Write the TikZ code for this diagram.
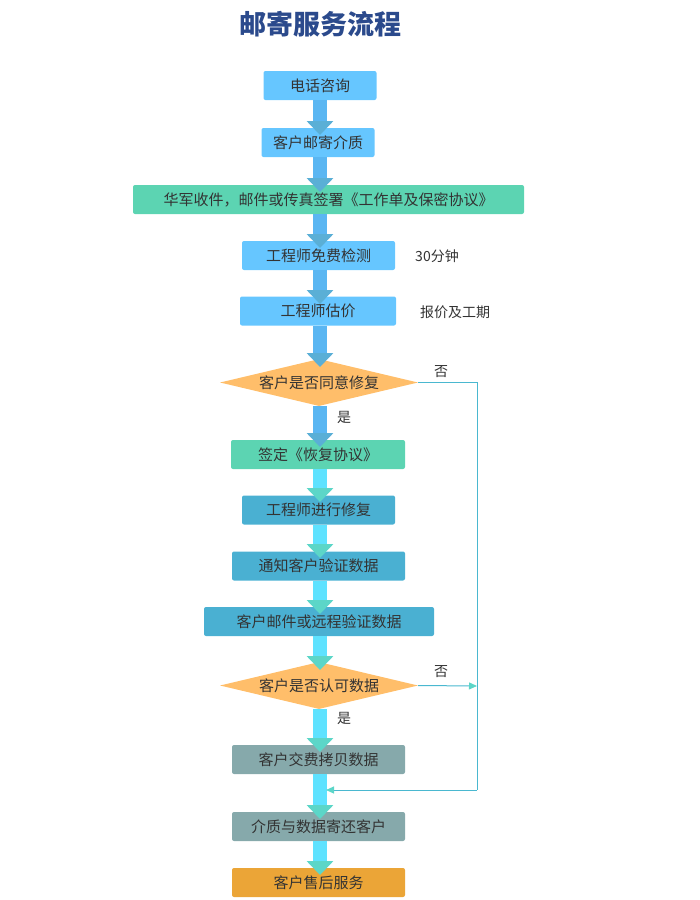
\documentclass[tikz,border=0pt]{standalone}
\usepackage{fontspec}
\setmainfont{Noto Sans CJK SC}
\usetikzlibrary{arrows.meta,shapes.geometric}
\definecolor{lb}{HTML}{66C6FF}
\definecolor{gr}{HTML}{5CD4B2}
\definecolor{db}{HTML}{4AB0D2}
\definecolor{gy}{HTML}{86A9AB}
\definecolor{og}{HTML}{FFBE6A}
\definecolor{or}{HTML}{EBA537}
\definecolor{sh1}{HTML}{5AB6F2}
\definecolor{sh2}{HTML}{5EE2FF}
\definecolor{tp1}{HTML}{5AAFD6}
\definecolor{tp2}{HTML}{5CD6C8}
\definecolor{tx}{HTML}{333333}
\definecolor{ttl}{HTML}{2B4A8C}
\definecolor{lp}{HTML}{4AB8D0}
\tikzset{
 box/.style={rectangle,rounded corners=2pt,minimum height=29pt,inner sep=0pt,text=tx,font=\fontsize{15pt}{15pt}\selectfont},
 dia/.style={diamond,aspect=4.2,fill=og,inner sep=0pt,minimum width=198pt,minimum height=47pt,text=tx,font=\fontsize{15pt}{15pt}\selectfont},
 lbl/.style={text=tx,font=\fontsize{14pt}{14pt}\selectfont},
 shaftA/.style={line width=14pt,draw=sh1,-{Triangle[width=26pt,length=14pt,color=tp1]}},
 shaftB/.style={line width=14pt,draw=sh2,-{Triangle[width=26pt,length=14pt,color=tp2]}},
 loop/.style={draw=lp,line width=1pt},
}
\begin{document}
\begin{tikzpicture}[x=1pt,y=-1pt]
\useasboundingbox (0,0) rectangle (700,900);
\node[font=\bfseries\fontsize{27pt}{27pt}\selectfont,text=ttl] (t) at (320,24) {邮寄服务流程};
\node[box,fill=lb,minimum width=113pt] (n1) at (320,85.5) {电话咨询};
\node[box,fill=lb,minimum width=113pt] (n2) at (318,142.5) {客户邮寄介质};
\node[box,fill=gr,minimum width=391pt] (n3) at (328.5,199.5) {华军收件，邮件或传真签署《工作单及保密协议》};
\node[box,fill=lb,minimum width=153pt] (n4) at (318.5,255.5) {工程师免费检测};
\node[lbl] (s4) at (437,256) {30分钟};
\node[box,fill=lb,minimum width=156pt] (n5) at (318,311) {工程师估价};
\node[lbl] (s5) at (455,312) {报价及工期};
\node[dia] (d1) at (319,382.5) {客户是否同意修复};
\node[lbl] (no1) at (441,372) {否};
\node[lbl] (y1) at (344,417) {是};
\node[box,fill=gr,minimum width=174pt] (n7) at (318,454.5) {签定《恢复协议》};
\node[box,fill=db,minimum width=153pt] (n8) at (318.5,510) {工程师进行修复};
\node[box,fill=db,minimum width=173pt] (n9) at (318.5,566) {通知客户验证数据};
\node[box,fill=db,minimum width=230pt] (n10) at (319,621.5) {客户邮件或远程验证数据};
\node[dia] (d2) at (319,685.5) {客户是否认可数据};
\node[lbl] (no2) at (441,672) {否};
\node[lbl] (y2) at (344,718) {是};
\node[box,fill=gy,minimum width=173pt] (n12) at (318.5,759.5) {客户交费拷贝数据};
\node[box,fill=gy,minimum width=173pt] (n13) at (318.5,826.5) {介质与数据寄还客户};
\node[box,fill=or,minimum width=173pt] (n14) at (318.5,882.5) {客户售后服务};
\coordinate (r1) at (477,382.5);
\coordinate (r2) at (477,790);
\coordinate (r3) at (477,686);
\coordinate (m) at (320,790);
\draw[shaftA] (320,100) -- (320,135);
\draw[shaftA] (320,157) -- (320,192);
\draw[shaftA] (320,214) -- (320,248);
\draw[shaftA] (320,270) -- (320,304);
\draw[shaftA] (320,326) -- (320,367);
\draw[shaftA] (320,406) -- (320,447);
\draw[shaftB] (320,469) -- (320,502);
\draw[shaftB] (320,525) -- (320,558);
\draw[shaftB] (320,581) -- (320,614);
\draw[shaftB] (320,636) -- (320,670);
\draw[shaftB] (320,709) -- (320,752);
\draw[shaftB] (320,774) -- (320,819);
\draw[shaftB] (320,841) -- (320,875);
\draw[loop] (d1.east) -- (r1) -- (r2);
\draw[loop,-{Triangle[width=7pt,length=8pt,color=tp2]}] (r2) -- ([xshift=6pt]m);
\draw[loop,-{Triangle[width=7pt,length=8pt,color=tp2]}] (d2.east) -- (r3);
\end{tikzpicture}
\end{document}
